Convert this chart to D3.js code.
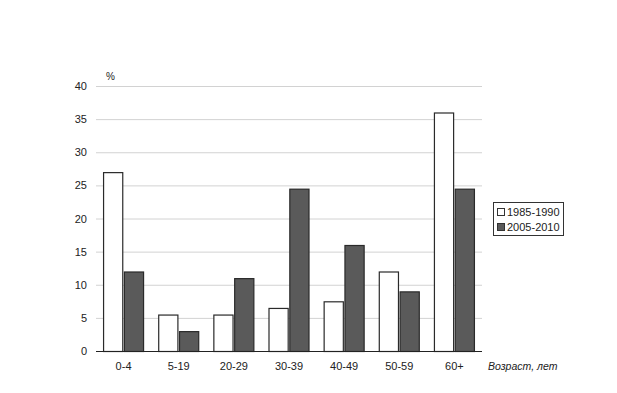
<!DOCTYPE html>
<html>
<head>
<meta charset="utf-8">
<script src="https://cdn.jsdelivr.net/npm/d3@7"></script>
<style>
  body { margin: 0; background: #fff; }
  text { font-family: "Liberation Sans", Arial, sans-serif; }
</style>
</head>
<body>
<div class="chart"></div>
<script>
// age groups and shares (%)
var ages = ["0-4", "5-19", "20-29", "30-39", "40-49", "50-59", "60+"];
var seriesNames = ["1985-1990", "2005-2010"];
var values1985 = [27, 5.5, 5.5, 6.5, 7.5, 12, 36];
var values2005 = [12, 3, 11, 24.5, 16, 9, 24.5];
var yTicks = [0, 5, 10, 15, 20, 25, 30, 35, 40];

var width = 617, height = 393;
var plotLeft = 96, plotRight = 482, plotTop = 86, plotBottom = 351;

var svg = d3.select(".chart")
  .append("svg")
  .attr("width", width)
  .attr("height", height);

var color = d3.scaleOrdinal()
  .domain(seriesNames)
  .range(["#ffffff", "#5a5a5a"]);

var x = d3.scaleBand().domain(ages).range([plotLeft, plotRight]);
var xs = d3.scaleBand().domain(seriesNames).range([0, 41]).paddingInner(0.03);
var y = d3.scaleLinear().domain([0, 40]).range([plotBottom, plotTop]);

// grid lines
svg.append("g")
  .selectAll("line")
  .data(yTicks.filter(d => d > 0))
  .enter().append("line")
  .attr("x1", plotLeft).attr("x2", plotRight)
  .attr("y1", d => y(d) + 0.5).attr("y2", d => y(d) + 0.5)
  .attr("stroke", "#d2d2d2")
  .attr("stroke-width", 1);

// y axis labels
svg.append("g")
  .selectAll("text")
  .data(yTicks)
  .enter().append("text")
  .attr("x", 87)
  .attr("y", d => y(d) + 4)
  .attr("text-anchor", "end")
  .attr("font-size", 11)
  .attr("fill", "#222")
  .text(d => d);

svg.append("text")
  .attr("x", 106).attr("y", 80)
  .attr("font-size", 10)
  .attr("fill", "#222")
  .text("%");

var rows = [];
ages.forEach((a, i) => {
  rows.push({ age: a, series: seriesNames[0], value: values1985[i] });
  rows.push({ age: a, series: seriesNames[1], value: values2005[i] });
});

var off = (x.bandwidth() - 41) / 2;

svg.append("g")
  .selectAll("rect")
  .data(rows)
  .enter().append("rect")
  .attr("x", d => x(d.age) + off + xs(d.series) + 0.5)
  .attr("y", d => y(d.value) + 0.5)
  .attr("width", xs.bandwidth() - 1)
  .attr("height", d => plotBottom - y(d.value))
  .attr("fill", d => color(d.series))
  .attr("stroke", "#2a2a2a")
  .attr("stroke-width", 1.2);

// baseline
svg.append("line")
  .attr("x1", plotLeft).attr("x2", plotRight)
  .attr("y1", plotBottom + 0.5).attr("y2", plotBottom + 0.5)
  .attr("stroke", "#222")
  .attr("stroke-width", 1.2);

// x labels
svg.append("g")
  .selectAll("text")
  .data(ages)
  .enter().append("text")
  .attr("x", d => x(d) + x.bandwidth() / 2)
  .attr("y", 370)
  .attr("text-anchor", "middle")
  .attr("font-size", 11)
  .attr("fill", "#222")
  .text(d => d);

svg.append("text")
  .attr("x", 488).attr("y", 370)
  .attr("font-size", 10.5)
  .attr("font-style", "italic")
  .attr("fill", "#222")
  .text("Возраст, лет");

// legend
var lg = svg.append("g").attr("transform", "translate(493,202)");
lg.append("rect")
  .attr("x", 0.5).attr("y", 0.5)
  .attr("width", 70).attr("height", 33)
  .attr("fill", "#fff")
  .attr("stroke", "#333");

var item = lg.selectAll(".item")
  .data(seriesNames)
  .enter().append("g")
  .attr("transform", (d, i) => "translate(4," + (6 + i * 15) + ")");

item.append("rect")
  .attr("x", 0.5).attr("y", 0.5)
  .attr("width", 7).attr("height", 7)
  .attr("fill", d => color(d))
  .attr("stroke", "#333");

item.append("text")
  .attr("x", 10).attr("y", 8)
  .attr("font-size", 11)
  .attr("fill", "#222")
  .text(d => d);
</script>
</body>
</html>
